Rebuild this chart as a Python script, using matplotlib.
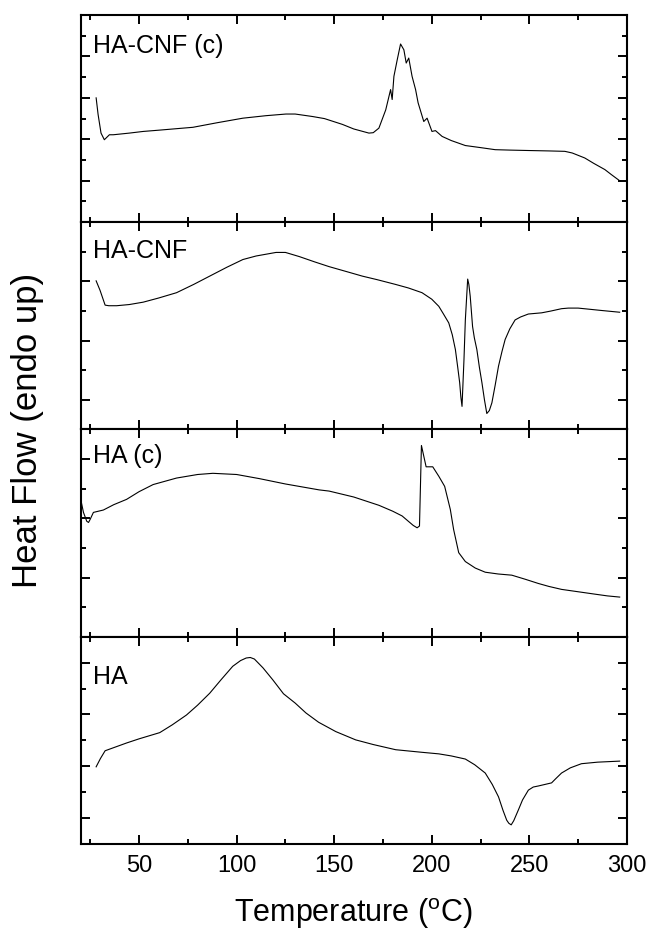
import matplotlib.pyplot as plt
from matplotlib.ticker import MultipleLocator

plt.rcParams['font.family'] = ['Liberation Sans', 'DejaVu Sans']

# DSC traces (temperature in degC, heat flow in arbitrary units)
t_hacnf_c = [28.0, 29.0, 30.5, 32.2, 33.5, 34.8, 36.8, 45.0, 52.1, 60.0, 77.6, 90.0,
             103.2, 115.0, 125.3, 130.0, 138.9, 145.0, 154.2, 160.0, 167.8, 170.0,
             172.9, 176.4, 178.9, 179.7, 180.6, 182.3, 184.0, 185.7, 186.9,
             188.2, 189.9, 191.7, 193.0, 195.9, 197.6, 200.1, 201.9, 205.3, 210.0,
             217.2, 225.0, 232.5, 240.0, 249.5, 260.0, 268.2, 272.0, 278.4, 283.0,
             288.7, 292.0, 296.3]
q_hacnf_c = [3.00, 2.60, 2.15, 1.99, 2.05, 2.11, 2.11, 2.15, 2.19, 2.22, 2.29, 2.40,
             2.51, 2.57, 2.61, 2.61, 2.55, 2.50, 2.36, 2.25, 2.15, 2.16,
             2.27, 2.71, 3.20, 2.96, 3.52, 3.92, 4.30, 4.16, 3.84,
             3.96, 3.52, 3.20, 2.88, 2.43, 2.51, 2.19, 2.21, 2.07, 1.97,
             1.85, 1.80, 1.75, 1.74, 1.73, 1.72, 1.71, 1.67, 1.55, 1.42,
             1.27, 1.15, 1.00]

t_hacnf = [28.0, 30.0, 32.6, 34.5, 38.5, 45.0, 52.1, 60.0, 69.2, 78.0, 86.2, 95.0,
           103.2, 110.0, 120.2, 125.0, 132.1, 140.0, 147.4, 157.0, 164.4, 172.0,
           181.4, 188.0, 195.0, 200.0, 203.6, 206.0, 208.7, 210.5, 212.1, 213.3,
           214.3, 214.9, 215.5, 216.5, 217.2, 218.4, 219.0, 219.7, 220.9, 221.8,
           223.1, 224.4, 225.7, 227.0, 228.2, 229.5, 230.8, 232.5, 234.2, 236.0,
           237.6, 240.0, 242.7, 245.5, 249.5, 256.3, 261.0, 266.5, 270.0, 275.0,
           281.0, 286.9, 296.3]
q_hacnf = [3.01, 2.85, 2.60, 2.59, 2.59, 2.61, 2.65, 2.72, 2.81, 2.95, 3.09, 3.24,
           3.37, 3.43, 3.49, 3.49, 3.42, 3.33, 3.25, 3.16, 3.09, 3.03,
           2.95, 2.89, 2.81, 2.70, 2.58, 2.45, 2.30, 2.10, 1.85, 1.55,
           1.29, 1.05, 0.89, 1.68, 2.35, 3.04, 2.95, 2.75, 2.24, 2.05,
           1.85, 1.55, 1.29, 1.00, 0.77, 0.82, 0.95, 1.25, 1.57, 1.82,
           2.02, 2.20, 2.35, 2.40, 2.45, 2.47, 2.50, 2.54, 2.55, 2.55,
           2.53, 2.51, 2.48]

t_ha_c = [20.1, 21.5, 23.2, 24.1, 24.9, 26.6, 31.7, 37.0, 43.6, 50.0, 57.2, 69.2,
          80.0, 87.8, 100.0, 111.7, 125.0, 142.3, 147.4, 160.0, 172.9, 180.0,
          184.8, 188.0, 190.5, 192.5, 193.7, 194.7, 197.1, 200.5, 203.6, 206.6,
          209.5, 211.2, 213.8, 217.2, 222.3, 227.4, 234.0, 241.0, 248.0, 254.6,
          260.0, 266.5, 275.0, 283.5, 290.0, 296.3]
q_ha_c = [2.32, 2.10, 1.95, 1.93, 1.98, 2.10, 2.14, 2.23, 2.32, 2.45, 2.57, 2.68,
          2.74, 2.76, 2.74, 2.67, 2.58, 2.48, 2.46, 2.36, 2.22, 2.12,
          2.04, 1.95, 1.88, 1.84, 1.87, 3.23, 2.87, 2.87, 2.71, 2.54,
          2.15, 1.81, 1.42, 1.27, 1.16, 1.09, 1.06, 1.04, 0.97, 0.90,
          0.85, 0.80, 0.76, 0.72, 0.69, 0.67]

t_ha = [28.0, 30.2, 32.6, 43.6, 50.0, 60.6, 67.0, 74.3, 80.0, 86.2, 92.0, 98.0,
        102.0, 104.9, 107.0, 109.1, 113.5, 118.5, 124.0, 130.0, 135.5, 142.0,
        150.8, 161.0, 170.0, 181.5, 195.0, 203.6, 210.0, 217.2, 222.0, 227.4,
        231.0, 234.2, 236.5, 238.4, 239.5, 240.7, 242.0, 244.4, 246.5, 249.5,
        252.0, 254.6, 258.0, 261.4, 263.5, 266.5, 271.0, 276.7, 285.0, 296.3]
q_ha = [1.99, 2.15, 2.30, 2.45, 2.53, 2.65, 2.80, 2.99, 3.18, 3.41, 3.67, 3.93,
        4.04, 4.09, 4.10, 4.07, 3.90, 3.67, 3.40, 3.22, 3.03, 2.85,
        2.67, 2.51, 2.42, 2.32, 2.27, 2.24, 2.20, 2.14, 2.03, 1.87,
        1.65, 1.41, 1.15, 0.96, 0.90, 0.87, 0.95, 1.16, 1.35, 1.54,
        1.60, 1.62, 1.65, 1.68, 1.76, 1.87, 1.97, 2.05, 2.08, 2.10]

labels = ['HA-CNF (c)', 'HA-CNF', 'HA (c)', 'HA']
temps = [t_hacnf_c, t_hacnf, t_ha_c, t_ha]
flows = [q_hacnf_c, q_hacnf, q_ha_c, q_ha]
ylims = [(0, 5), (0.5, 4), (0, 3.5), (0.5, 4.5)]
label_y = [0.85, 0.86, 0.87, 0.805]

fig, axes = plt.subplots(4, 1, sharex=True, figsize=(6.51, 9.35), dpi=100)
fig.subplots_adjust(left=0.1237, right=0.963, top=0.984, bottom=0.0973, hspace=0)

for ax, t, q, lab, yl, ly in zip(axes, temps, flows, labels, ylims, label_y):
    ax.plot(t, q, color='black', lw=0.8)
    ax.set_xlim(20, 300)
    ax.set_ylim(*yl)
    ax.xaxis.set_major_locator(MultipleLocator(50))
    ax.xaxis.set_minor_locator(MultipleLocator(25))
    ax.yaxis.set_major_locator(MultipleLocator(1))
    ax.yaxis.set_minor_locator(MultipleLocator(0.5))
    ax.tick_params(which='both', direction='in', top=True, right=True,
                   width=1.4, labelleft=False, labelsize=17)
    ax.tick_params(which='major', length=6.5)
    ax.tick_params(which='minor', length=3.3)
    for s in ax.spines.values():
        s.set_linewidth(1.5)
    ax.text(0.023, ly, lab, transform=ax.transAxes, fontsize=18, va='center', ha='left')

axes[-1].tick_params(axis='x', pad=8)
axes[-1].set_xlabel('Temperature ($\\mathregular{^{o}}$C)', fontsize=22, labelpad=14)
fig.text(0.042, 0.54, 'Heat Flow (endo up)', rotation=90, fontsize=25,
         va='center', ha='center')

fig.savefig('out.png', dpi=100)
